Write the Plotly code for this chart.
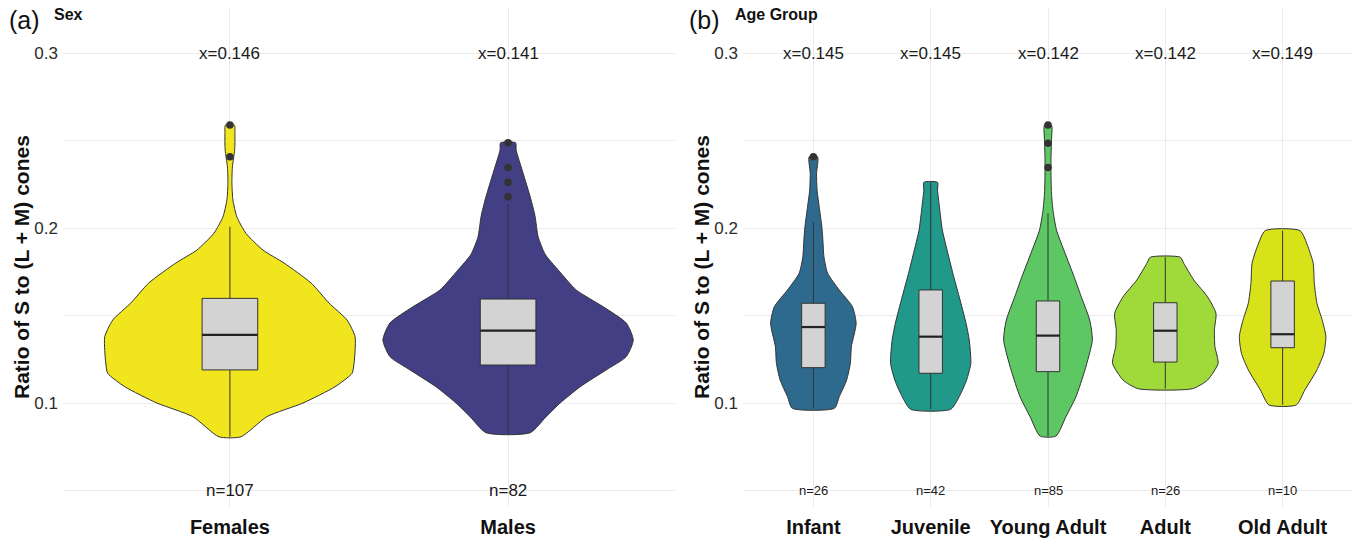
import plotly.graph_objects as go

# ---------------- DATA ----------------
# Panel (a): Sex
sex_groups = ["Females", "Males"]
sex_means = ["0.146", "0.141"]
sex_n = ["107", "82"]
sex_q1 = [0.1189, 0.1217]
sex_median = [0.1389, 0.1413]
sex_q3 = [0.1598, 0.1594]
sex_low = [0.0807, 0.0830]
sex_high = [0.2007, 0.2137]
sex_outliers = [[0.2589, 0.2407], [0.2487, 0.2345, 0.2261, 0.2179]]

# Panel (b): Age group
age_groups = ["Infant", "Juvenile", "Young Adult", "Adult", "Old Adult"]
age_means = ["0.145", "0.145", "0.142", "0.142", "0.149"]
age_n = ["26", "42", "85", "26", "10"]
age_q1 = [0.1202, 0.1170, 0.1179, 0.1234, 0.1316]
age_median = [0.1434, 0.1379, 0.1385, 0.1413, 0.1393]
age_q3 = [0.1570, 0.1646, 0.1583, 0.1573, 0.1697]
age_low = [0.0970, 0.0964, 0.0811, 0.1082, 0.0989]
age_high = [0.2034, 0.2261, 0.2084, 0.1833, 0.1985]
age_outliers = [[0.2407], [], [0.2589, 0.2484, 0.2345], [], []]

# Violin density profiles (value, relative width)
females_y = [0.0807, 0.0922, 0.1000, 0.1093, 0.1170, 0.1229, 0.1300, 0.1379, 0.1474, 0.1571,
             0.1686, 0.1800, 0.1874, 0.1970, 0.2063, 0.2160, 0.2257, 0.2350, 0.2446, 0.2540, 0.2589]
females_w = [0.088, 0.296, 0.584, 0.840, 0.976, 0.992, 1.000, 1.000, 0.936, 0.792,
             0.648, 0.432, 0.264, 0.128, 0.056, 0.024, 0.016, 0.020, 0.038, 0.040, 0.035]
males_y = [0.0830, 0.0922, 0.1000, 0.1093, 0.1189, 0.1265, 0.1360, 0.1457, 0.1550, 0.1646,
           0.1760, 0.1850, 0.1950, 0.2065, 0.2160, 0.2257, 0.2350, 0.2446, 0.2487]
males_w = [0.176, 0.304, 0.416, 0.576, 0.784, 0.944, 1.000, 0.944, 0.760, 0.544,
           0.400, 0.296, 0.240, 0.216, 0.184, 0.144, 0.104, 0.064, 0.060]
infant_y = [0.0970, 0.1036, 0.1131, 0.1227, 0.1322, 0.1455, 0.1550, 0.1646, 0.1741, 0.1836,
            0.1931, 0.2007, 0.2122, 0.2217, 0.2313, 0.2407]
infant_w = [0.40, 0.49, 0.63, 0.70, 0.72, 0.81, 0.74, 0.49, 0.27, 0.20,
            0.18, 0.16, 0.11, 0.07, 0.06, 0.08]
juvenile_y = [0.0964, 0.1036, 0.1131, 0.1227, 0.1360, 0.1455, 0.1607, 0.1741, 0.1874, 0.1989,
              0.2122, 0.2217, 0.2261]
juvenile_w = [0.38, 0.54, 0.68, 0.76, 0.73, 0.67, 0.54, 0.42, 0.31, 0.22,
              0.165, 0.13, 0.13]
young_y = [0.0811, 0.0922, 0.1036, 0.1189, 0.1360, 0.1474, 0.1607, 0.1741, 0.1874, 0.1989,
           0.2100, 0.2200, 0.2300, 0.2400, 0.2500, 0.2589]
young_w = [0.15, 0.34, 0.53, 0.70, 0.84, 0.79, 0.63, 0.47, 0.30, 0.16,
           0.095, 0.066, 0.057, 0.057, 0.066, 0.066]
adult_y = [0.1082, 0.1131, 0.1227, 0.1322, 0.1417, 0.1512, 0.1607, 0.1703, 0.1798, 0.1833]
adult_w = [0.52, 0.80, 1.00, 0.94, 0.93, 0.96, 0.80, 0.54, 0.35, 0.285]
old_y = [0.0989, 0.1074, 0.1189, 0.1284, 0.1379, 0.1474, 0.1570, 0.1684, 0.1798, 0.1893, 0.1985]
old_w = [0.26, 0.42, 0.65, 0.78, 0.82, 0.75, 0.65, 0.60, 0.58, 0.48, 0.33]

y_tick_vals = [0.05, 0.10, 0.15, 0.20, 0.25, 0.30]
y_tick_text = ["", "0.1", "", "0.2", "", "0.3"]

# ---------------- STYLE ----------------
sex_colors = ["#F1E51E", "#423F85"]
age_colors = ["#2E6A8D", "#20998A", "#5DC863", "#A0DA3A", "#D7E219"]
FONT = "Liberation Sans, Arial, sans-serif"
VIOLIN_SCALE = 0.45
BOX_W = 0.2
OUTLINE = "#333333"

W, H = 1358, 540
TOP, BOTTOM = 8, 33
PLOT_H = H - TOP - BOTTOM
PX_PER_UNIT = 1750.0
y_max = 0.30 + (53 - TOP) / PX_PER_UNIT
y_min = 0.30 - (H - BOTTOM - 53) / PX_PER_UNIT


def py(pix):
    """pixel row -> paper y"""
    return 1 - (pix - TOP) / PLOT_H


fig = go.Figure()


def line_trace(xa, ya, xs, ys, color, width):
    return go.Scatter(x=xs, y=ys, xaxis=xa, yaxis=ya, mode="lines",
                      line=dict(color=color, width=width), hoverinfo="skip",
                      showlegend=False)


def add_panel(xa, ya, profiles, colors, q1, med, q3, lo, hi, outliers):
    for i, ((ys, ws), col) in enumerate(zip(profiles, colors)):
        pos = i + 1
        # violin body
        xs = [pos + VIOLIN_SCALE * w for w in ws] + [pos - VIOLIN_SCALE * w for w in reversed(ws)]
        yy = list(ys) + list(reversed(ys))
        xs.append(xs[0])
        yy.append(yy[0])
        fig.add_trace(go.Scatter(x=xs, y=yy, xaxis=xa, yaxis=ya, mode="lines",
                                 fill="toself", fillcolor=col,
                                 line=dict(color=OUTLINE, width=1, shape="spline", smoothing=0.6),
                                 hoverinfo="skip", showlegend=False))
        # whiskers
        fig.add_trace(line_trace(xa, ya, [pos, pos], [lo[i], q1[i]], OUTLINE, 1))
        fig.add_trace(line_trace(xa, ya, [pos, pos], [q3[i], hi[i]], OUTLINE, 1))
        # box
        bl, br = pos - BOX_W / 2, pos + BOX_W / 2
        fig.add_trace(go.Scatter(x=[bl, br, br, bl, bl], y=[q1[i], q1[i], q3[i], q3[i], q1[i]],
                                 xaxis=xa, yaxis=ya, mode="lines", fill="toself",
                                 fillcolor="#D3D3D3", line=dict(color=OUTLINE, width=1),
                                 hoverinfo="skip", showlegend=False))
        # median
        fig.add_trace(line_trace(xa, ya, [bl, br], [med[i], med[i]], "#222222", 2.2))
        # outliers
        if outliers[i]:
            fig.add_trace(go.Scatter(x=[pos] * len(outliers[i]), y=outliers[i],
                                     xaxis=xa, yaxis=ya, mode="markers",
                                     marker=dict(color=OUTLINE, size=7.5),
                                     hoverinfo="skip", showlegend=False))


add_panel("x", "y", [(females_y, females_w), (males_y, males_w)], sex_colors,
          sex_q1, sex_median, sex_q3, sex_low, sex_high, sex_outliers)
add_panel("x2", "y2",
          [(infant_y, infant_w), (juvenile_y, juvenile_w), (young_y, young_w),
           (adult_y, adult_w), (old_y, old_w)], age_colors,
          age_q1, age_median, age_q3, age_low, age_high, age_outliers)

annotations = []
for i, g in enumerate(sex_groups):
    annotations.append(dict(x=i + 1, y=0.30, xref="x", yref="y", text="x=" + sex_means[i],
                            showarrow=False, font=dict(size=17, color="#1A1A1A", family=FONT)))
    annotations.append(dict(x=i + 1, y=0.05, xref="x", yref="y", text="n=" + sex_n[i],
                            showarrow=False, font=dict(size=17, color="#1A1A1A", family=FONT)))
for i, g in enumerate(age_groups):
    annotations.append(dict(x=i + 1, y=0.30, xref="x2", yref="y2", text="x=" + age_means[i],
                            showarrow=False, font=dict(size=17, color="#1A1A1A", family=FONT)))
    annotations.append(dict(x=i + 1, y=0.05, xref="x2", yref="y2", text="n=" + age_n[i],
                            showarrow=False, font=dict(size=13, color="#1A1A1A", family=FONT)))

# Tags and subtitles
annotations += [
    dict(x=7 / W, y=py(20), xref="paper", yref="paper", text="(a)", xanchor="left",
         yanchor="middle", showarrow=False, font=dict(size=25, color="#111111", family=FONT)),
    dict(x=52 / W, y=py(14), xref="paper", yref="paper", text="<b>Sex</b>", xanchor="left",
         yanchor="middle", showarrow=False, font=dict(size=16, color="#111111", family=FONT)),
    dict(x=687 / W, y=py(20), xref="paper", yref="paper", text="(b)", xanchor="left",
         yanchor="middle", showarrow=False, font=dict(size=25, color="#111111", family=FONT)),
    dict(x=733 / W, y=py(14), xref="paper", yref="paper", text="<b>Age Group</b>",
         xanchor="left", yanchor="middle", showarrow=False,
         font=dict(size=16, color="#111111", family=FONT)),
    dict(x=21 / W, y=py(267), xref="paper", yref="paper",
         text="<b>Ratio of S to (L + M) cones</b>", textangle=-90, showarrow=False,
         xanchor="center", yanchor="middle", font=dict(size=21, color="#111111", family=FONT)),
    dict(x=701 / W, y=py(267), xref="paper", yref="paper",
         text="<b>Ratio of S to (L + M) cones</b>", textangle=-90, showarrow=False,
         xanchor="center", yanchor="middle", font=dict(size=21, color="#111111", family=FONT)),
]

grid = "#EBEBEB"
axis_common = dict(showline=False, zeroline=False, ticks="", gridcolor=grid, gridwidth=1,
                   automargin=False)
fig.update_layout(
    width=W, height=H,
    margin=dict(l=0, r=0, t=TOP, b=BOTTOM),
    paper_bgcolor="white", plot_bgcolor="white",
    font=dict(family=FONT),
    showlegend=False,
    annotations=annotations,
    xaxis=dict(domain=[63 / W, 675 / W], range=[0.4, 2.6], tickvals=[1, 2],
               ticktext=["<b>%s</b>" % g for g in sex_groups], anchor="y",
               tickfont=dict(size=20, color="#111111", family=FONT), ticklabelstandoff=6,
               **axis_common),
    xaxis2=dict(domain=[743 / W, 1353 / W], range=[0.4, 5.6], tickvals=[1, 2, 3, 4, 5],
                ticktext=["<b>%s</b>" % g for g in age_groups], anchor="y2",
                tickfont=dict(size=20, color="#111111", family=FONT), ticklabelstandoff=6,
                **axis_common),
    yaxis=dict(range=[y_min, y_max], tickvals=y_tick_vals, ticktext=y_tick_text, anchor="x",
               tickfont=dict(size=17, color="#2B2B2B", family=FONT), ticklabelstandoff=4,
               **axis_common),
    yaxis2=dict(range=[y_min, y_max], tickvals=y_tick_vals, ticktext=y_tick_text, anchor="x2",
                tickfont=dict(size=17, color="#2B2B2B", family=FONT), ticklabelstandoff=4,
                **axis_common),
)

fig.write_html("out.html", config={"displayModeBar": False},
               post_script="document.body.style.margin='0px';")
